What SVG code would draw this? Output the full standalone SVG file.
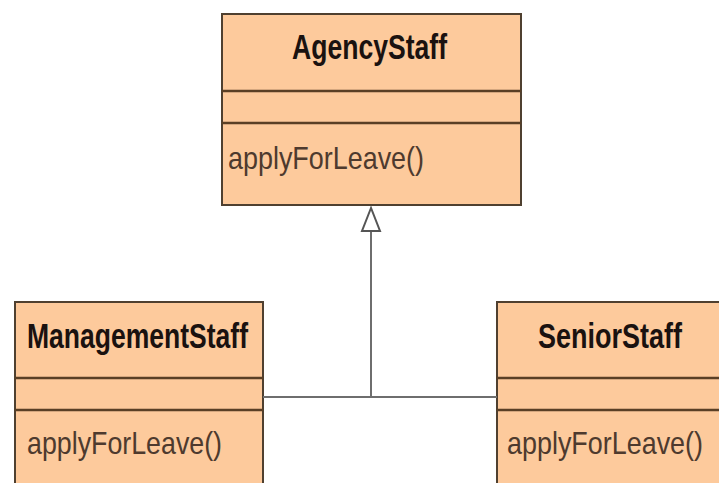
<svg xmlns="http://www.w3.org/2000/svg" width="719" height="483" viewBox="0 0 719 483">
<style>
.box{fill:#fdca9c;stroke:#4f4030;stroke-width:2}
.div{stroke:#5a3f25;stroke-width:2.5}
.name{font-family:"Liberation Sans",Arial,sans-serif;font-weight:bold;font-size:27px;fill:#1a1210}
.op{font-family:"Liberation Sans",Arial,sans-serif;font-size:27px;fill:#4e3a2e}
.conn{stroke:#6e6e6e;stroke-width:2;fill:none}
</style>
<rect width="719" height="483" fill="#ffffff"/>
<g id="AgencyStaff">
<rect class="box" x="222" y="14" width="299" height="191"/>
<line class="div" x1="222" y1="91" x2="521" y2="91"/>
<line class="div" x1="222" y1="123" x2="521" y2="123"/>
<text class="name" transform="translate(292,59) scale(1,1.333)" textLength="155" lengthAdjust="spacingAndGlyphs">AgencyStaff</text>
<text class="op" transform="translate(228,169) scale(1,1.148)" textLength="196" lengthAdjust="spacingAndGlyphs">applyForLeave()</text>
</g>
<g id="ManagementStaff">
<rect class="box" x="15" y="302" width="248" height="183"/>
<line class="div" x1="15" y1="378" x2="263" y2="378"/>
<line class="div" x1="15" y1="410" x2="263" y2="410"/>
<text class="name" transform="translate(27,348) scale(1,1.333)" textLength="221" lengthAdjust="spacingAndGlyphs">ManagementStaff</text>
<text class="op" transform="translate(27,454) scale(1,1.148)" textLength="195" lengthAdjust="spacingAndGlyphs">applyForLeave()</text>
</g>
<g id="SeniorStaff">
<rect class="box" x="497" y="302" width="224" height="183"/>
<line class="div" x1="497" y1="378" x2="719" y2="378"/>
<line class="div" x1="497" y1="410" x2="719" y2="410"/>
<text class="name" transform="translate(538,348) scale(1,1.333)" textLength="144" lengthAdjust="spacingAndGlyphs">SeniorStaff</text>
<text class="op" transform="translate(507,454) scale(1,1.148)" textLength="196" lengthAdjust="spacingAndGlyphs">applyForLeave()</text>
</g>
<g id="connectors">
<polyline class="conn" points="263,397 497,397"/>
<line class="conn" x1="371" y1="397" x2="371" y2="231"/>
<polygon points="371,208 362,231 380,231" fill="#ffffff" stroke="#555" stroke-width="2"/>
</g>
</svg>
